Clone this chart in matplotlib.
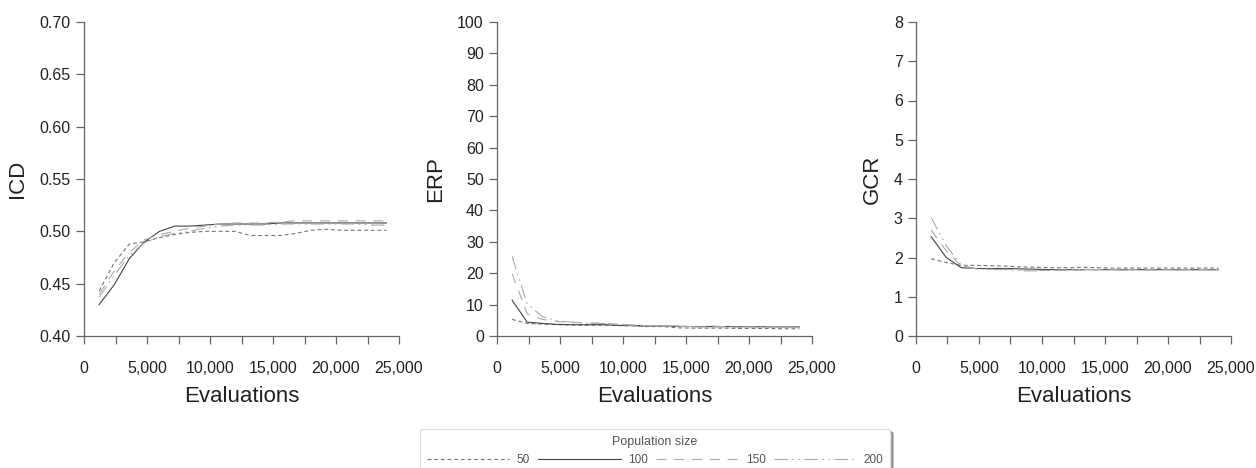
import matplotlib
matplotlib.use("Agg")
from matplotlib import pyplot as plt
from matplotlib.ticker import FuncFormatter, MultipleLocator

plt.rcParams["font.family"] = ["Liberation Sans", "DejaVu Sans"]

evals = [1200 * i for i in range(1, 21)]
pop_sizes = ["50", "100", "150", "200"]

icd_50 = [0.443, 0.470, 0.488, 0.490, 0.494, 0.497, 0.499, 0.500, 0.500, 0.500,
          0.496, 0.496, 0.496, 0.498, 0.501, 0.502, 0.501, 0.501, 0.501, 0.501]
icd_100 = [0.430, 0.449, 0.474, 0.490, 0.500, 0.505, 0.505, 0.506, 0.507, 0.507,
           0.507, 0.507, 0.508, 0.508, 0.508, 0.508, 0.508, 0.508, 0.508, 0.508]
icd_150 = [0.440, 0.462, 0.480, 0.492, 0.497, 0.500, 0.503, 0.505, 0.507, 0.508,
           0.508, 0.508, 0.509, 0.510, 0.510, 0.510, 0.510, 0.510, 0.510, 0.510]
icd_200 = [0.437, 0.458, 0.477, 0.489, 0.495, 0.498, 0.500, 0.503, 0.505, 0.506,
           0.506, 0.506, 0.507, 0.507, 0.507, 0.507, 0.507, 0.507, 0.506, 0.506]

erp_50 = [5.3, 4.0, 3.8, 3.6, 3.5, 3.4, 3.5, 3.3, 3.2, 3.0,
          3.0, 2.6, 2.5, 2.5, 2.5, 2.4, 2.4, 2.4, 2.3, 2.3]
erp_100 = [11.4, 4.4, 4.0, 3.7, 3.6, 3.6, 3.6, 3.4, 3.3, 3.2,
           3.2, 3.1, 3.0, 3.0, 3.0, 3.0, 3.0, 2.9, 2.9, 2.9]
erp_150 = [19.8, 7.0, 5.3, 4.6, 4.3, 4.2, 4.0, 3.8, 3.4, 3.3,
           3.2, 3.0, 2.9, 2.9, 2.9, 2.8, 2.8, 2.8, 2.8, 2.8]
erp_200 = [25.3, 10.2, 6.2, 4.8, 4.4, 4.1, 4.0, 3.7, 3.5, 3.3,
           3.2, 3.1, 3.0, 3.2, 3.0, 2.9, 2.9, 2.9, 2.9, 2.9]

gcr_50 = [1.97, 1.87, 1.80, 1.80, 1.79, 1.78, 1.76, 1.75, 1.74, 1.74,
          1.75, 1.74, 1.73, 1.73, 1.73, 1.73, 1.73, 1.73, 1.73, 1.73]
gcr_100 = [2.53, 2.00, 1.74, 1.72, 1.72, 1.72, 1.71, 1.70, 1.69, 1.69,
           1.69, 1.69, 1.69, 1.69, 1.69, 1.69, 1.69, 1.69, 1.69, 1.69]
gcr_150 = [2.70, 2.17, 1.78, 1.71, 1.70, 1.70, 1.68, 1.67, 1.67, 1.68,
           1.68, 1.69, 1.70, 1.69, 1.69, 1.69, 1.69, 1.69, 1.69, 1.70]
gcr_200 = [3.02, 2.30, 1.80, 1.71, 1.69, 1.69, 1.66, 1.66, 1.67, 1.68,
           1.70, 1.69, 1.68, 1.68, 1.68, 1.68, 1.68, 1.68, 1.68, 1.68]

styles = [
    dict(color="#777777", linestyle=(0, (3.5, 2.5))),
    dict(color="#444444", linestyle="-"),
    dict(color="#aaaaaa", linestyle=(0, (9, 7))),
    dict(color="#aaaaaa", linestyle=(0, (12, 4, 1.5, 4, 1.5, 4))),
]

panels = [
    ("ICD", [icd_50, icd_100, icd_150, icd_200], (0.40, 0.70), 0.05, "{:.2f}"),
    ("ERP", [erp_50, erp_100, erp_150, erp_200], (0, 100), 10, "{:.0f}"),
    ("GCR", [gcr_50, gcr_100, gcr_150, gcr_200], (0, 8), 1, "{:.0f}"),
]

lefts = [84, 497, 916]
W, H = 1256, 468
fig = plt.figure(figsize=(W / 100, H / 100), dpi=100)

spine_c = "#666666"
handles = []
for left, (name, series, ylim, step, fmt) in zip(lefts, panels):
    ax = fig.add_axes([left / W, 1 - 336 / H, 315 / W, 314 / H])
    for vals, st in zip(series, styles):
        ln, = ax.plot(evals, vals, linewidth=0.8, **st)
        if len(handles) < 4:
            handles.append(ln)
    ax.set_xlim(0, 25000)
    ax.set_ylim(*ylim)
    ax.xaxis.set_major_locator(MultipleLocator(5000))
    ax.xaxis.set_minor_locator(MultipleLocator(2500))
    ax.yaxis.set_major_locator(MultipleLocator(step))
    ax.xaxis.set_major_formatter(FuncFormatter(lambda v, p: "{:,.0f}".format(v)))
    ax.yaxis.set_major_formatter(FuncFormatter(lambda v, p, f=fmt: f.format(v)))
    for s in ["top", "right"]:
        ax.spines[s].set_visible(False)
    for s in ["left", "bottom"]:
        ax.spines[s].set_color(spine_c)
        ax.spines[s].set_linewidth(0.9)
    ax.tick_params(which="both", direction="out", length=6, width=0.9,
                   color=spine_c, labelsize=11.5, labelcolor="#222222")
    ax.tick_params(axis="x", pad=12)
    ax.set_xlabel("Evaluations", fontsize=16, color="#222222", labelpad=7)
    ax.set_ylabel(name, fontsize=16, color="#222222", labelpad=8)

leg = fig.legend(handles, pop_sizes, loc="upper center", ncol=4,
                 bbox_to_anchor=(655 / W, 1 - 423 / H), fontsize=8.5,
                 title="Population size", title_fontsize=9,
                 handlelength=7.0, handletextpad=0.6, columnspacing=0.7,
                 frameon=True, fancybox=True, shadow=True,
                 borderpad=0.6, labelcolor="#555555")
leg.get_title().set_color("#555555")
leg.get_frame().set_edgecolor("#dddddd")
leg.get_frame().set_linewidth(0.8)

fig.savefig("out.png", dpi=100)
